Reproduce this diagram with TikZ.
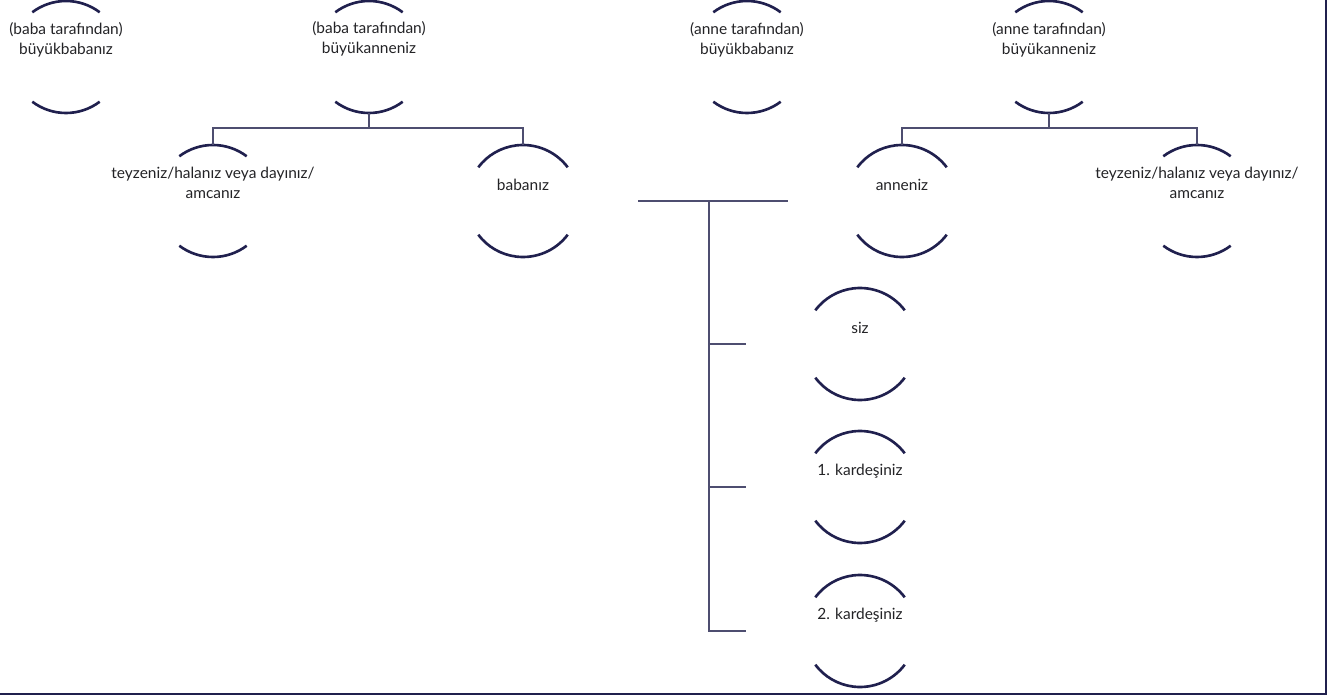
\documentclass[tikz,border=0pt]{standalone}
\usepackage{fontspec}
\setmainfont{Lato}
\usetikzlibrary{positioning,calc}
\definecolor{lacivert}{RGB}{32,32,78}
\definecolor{hatgri}{RGB}{78,78,112}
\definecolor{yazi}{RGB}{35,35,38}
\tikzset{
    every node/.style={font=\fontsize{8.8}{11.4}\selectfont, text=yazi},
    kisi/.style={circle, minimum size=2.24cm, inner sep=0pt, outer sep=0pt},
    isim/.style={align=center, inner sep=0pt},
    yay/.style={draw=lacivert, line width=1.5pt},
    bag/.style={draw=hatgri, line width=0.8pt},
    cerceve/.style={draw=lacivert, line width=1.2pt},
}

\begin{document}
\begin{tikzpicture}
  \useasboundingbox (0,0) rectangle (26.56,-13.92);
  % circles (only their top and bottom arcs show)
  \node[kisi] (bbuyukbaba) at (1.32,-1.14) {};
  \node[kisi] (bbuyukanne) at (7.38,-1.14) {};
  \node[kisi] (abuyukbaba) at (14.94,-1.14) {};
  \node[kisi] (abuyukanne) at (20.98,-1.14) {};
  \node[kisi] (bteyze) at (4.26,-4.02) {};
  \node[kisi] (baba) at (10.46,-4.02) {};
  \node[kisi] (anne) at (18.04,-4.02) {};
  \node[kisi] (ateyze) at (23.94,-4.02) {};
  \node[kisi] (siz) at (17.2,-6.88) {};
  \node[kisi] (kardes1) at (17.2,-9.74) {};
  \node[kisi] (kardes2) at (17.2,-12.62) {};
  \foreach \k/\t/\u in {bbuyukbaba/53/127, bbuyukanne/53/127, abuyukbaba/53/127, abuyukanne/53/127,
      bteyze/53/127, ateyze/53/127, baba/37/143, anne/37/143, siz/37/143, kardes1/37/143, kardes2/37/143} {
    \draw[yay] (\k.\t) arc[start angle=\t, end angle=\u, radius=1.12cm];
    \draw[yay] (\k.-\t) arc[start angle=-\t, end angle=-\u, radius=1.12cm];
  }
  % names
  \node[isim] (bbuyukbaba-y) at ([yshift=0.34cm]bbuyukbaba.center) {(baba tarafından)\\büyükbabanız};
  \node[isim] (bbuyukanne-y) at ([yshift=0.36cm]bbuyukanne.center) {(baba tarafından)\\büyükanneniz};
  \node[isim] (abuyukbaba-y) at ([yshift=0.34cm]abuyukbaba.center) {(anne tarafından)\\büyükbabanız};
  \node[isim] (abuyukanne-y) at ([yshift=0.34cm]abuyukanne.center) {(anne tarafından)\\büyükanneniz};
  \node[isim] (bteyze-y) at ([yshift=0.36cm]bteyze.center) {teyzeniz/halanız veya dayınız/\\amcanız};
  \node[isim] (ateyze-y) at ([yshift=0.36cm]ateyze.center) {teyzeniz/halanız veya dayınız/\\amcanız};
  \node[isim] (baba-y) at ([yshift=0.32cm]baba.center) {babanız};
  \node[isim] (anne-y) at ([yshift=0.32cm]anne.center) {anneniz};
  \node[isim] (siz-y) at ([yshift=0.32cm]siz.center) {siz};
  \node[isim] (kardes1-y) at ([yshift=0.32cm]kardes1.center) {1. kardeşiniz};
  \node[isim] (kardes2-y) at ([yshift=0.32cm]kardes2.center) {2. kardeşiniz};
  % connectors
  \coordinate (solcatal) at ($(bbuyukanne.south)+(0,-0.3)$);
  \coordinate (sagcatal) at ($(abuyukanne.south)+(0,-0.3)$);
  \draw[bag] (bbuyukanne.south) -- (solcatal);
  \draw[bag] (bteyze.north) |- (solcatal) -| (baba.north);
  \draw[bag] (abuyukanne.south) -- (sagcatal);
  \draw[bag] (anne.north) |- (sagcatal) -| (ateyze.north);
  \coordinate (evlilik1) at (12.76,-4.02);
  \coordinate (evlilik2) at (15.76,-4.02);
  \coordinate (kok) at (14.18,-4.02);
  \coordinate (dal1) at ($(siz.west)+(-1.16,0)$);
  \coordinate (dal2) at ($(kardes1.west)+(-1.16,0)$);
  \coordinate (dal3) at ($(kardes2.west)+(-1.16,0)$);
  \draw[bag] (evlilik1) -- (evlilik2);
  \draw[bag] (kok) |- (dal3);
  \draw[bag] (kok |- dal1) -- (dal1);
  \draw[bag] (kok |- dal2) -- (dal2);
  % frame
  \draw[cerceve] (0,-13.88) -- (26.52,-13.88) -- (26.52,0);
\end{tikzpicture}
\end{document}
